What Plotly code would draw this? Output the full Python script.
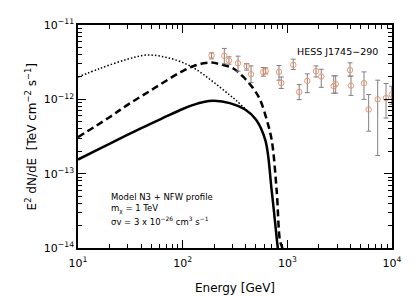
import plotly.graph_objects as go

# ---- data ----
solid_E = [10, 15.8, 25.1, 39.8, 63.1, 100, 126, 158, 200, 282, 398, 501, 617, 708, 794, 810, 830]
solid_F = [1.55e-13, 2.14e-13, 2.95e-13, 4.07e-13, 5.5e-13, 7.41e-13, 8.41e-13, 9.23e-13, 9.55e-13,
           8.9e-13, 7.24e-13, 5.37e-13, 2.8e-13, 6.0e-14, 1.3e-14, 1.0e-14, 5e-15]

dash_E = [10, 20, 30, 48.8, 75, 100, 126, 158, 190, 227, 305, 380, 473, 548, 638, 710, 791, 851, 895, 920]
dash_F = [3.1e-13, 5.75e-13, 8.5e-13, 1.3e-12, 1.9e-12, 2.4e-12, 2.79e-12, 3.05e-12, 3.13e-12, 2.97e-12,
          2.6e-12, 2.0e-12, 1.4e-12, 9.9e-13, 5.2e-13, 2.79e-13, 5.9e-14, 1.25e-14, 1.0e-14, 5e-15]

dot_E = [10, 16.2, 29.2, 45.3, 70.3, 109, 146, 182, 227, 283, 328, 410]
dot_F = [2.0e-12, 2.6e-12, 3.44e-12, 3.94e-12, 3.66e-12, 2.97e-12, 2.34e-12, 1.86e-12,
         1.46e-12, 1.135e-12, 9.55e-13, 7.1e-13]

hess_E = [189, 250, 277, 338, 409, 450, 589, 621, 832, 875, 1140, 1298, 1552, 1879, 2109,
          2773, 2898, 3970, 4055, 5400, 5985, 7300, 8770, 9930]
hess_F = [3.90e-12, 3.85e-12, 3.33e-12, 3.06e-12, 2.79e-12, 2.18e-12, 2.32e-12, 2.41e-12,
          2.34e-12, 1.66e-12, 2.91e-12, 1.26e-12, 1.77e-12, 2.39e-12, 2.03e-12, 1.51e-12,
          1.60e-12, 2.47e-12, 1.53e-12, 1.65e-12, 7.3e-13, 1.0e-12, 1.04e-12, 1.16e-12]
hess_hi = [4.22e-12, 4.84e-12, 3.73e-12, 3.81e-12, 3.03e-12, 2.82e-12, 2.68e-12, 2.65e-12,
           2.85e-12, 2.0e-12, 3.47e-12, 1.58e-12, 2.2e-12, 2.82e-12, 2.54e-12, 2.07e-12,
           2.07e-12, 3.10e-12, 2.05e-12, 2.34e-12, 1.16e-12, 1.81e-12, 1.63e-12, 1.5e-12]
hess_lo = [3.50e-12, 3.00e-12, 2.97e-12, 2.39e-12, 2.47e-12, 1.68e-12, 2.05e-12, 2.2e-12,
           1.81e-12, 1.40e-12, 2.52e-12, 9.9e-13, 1.23e-12, 2.0e-12, 1.45e-12, 1.21e-12,
           1.21e-12, 2.05e-12, 1.13e-12, 1.0e-12, 3.73e-13, 1.75e-13, 5.59e-13, 8.5e-13]

x_tickvals = [10, 100, 1000, 10000]
x_ticktext = ["10<sup>1</sup>", "10<sup>2</sup>", "10<sup>3</sup>", "10<sup>4</sup>"]
y_tickvals = [1e-14, 1e-13, 1e-12, 1e-11]
y_ticktext = ["10<sup>−14</sup>", "10<sup>−13</sup>", "10<sup>−12</sup>", "10<sup>−11</sup>"]

model_lines = ["Model N3 + NFW profile",
               "m<sub>χ</sub> = 1 TeV",
               "σv = 3 x 10<sup>−26</sup> cm<sup>3</sup> s<sup>−1</sup>"]

# ---- figure ----
err_plus = [h - f for h, f in zip(hess_hi, hess_F)]
err_minus = [f - l for f, l in zip(hess_F, hess_lo)]

fig = go.Figure()
fig.add_trace(go.Scatter(x=dot_E, y=dot_F, mode="lines", line=dict(color="black", width=1.5, dash="1.5px,2px", shape="spline")))
fig.add_trace(go.Scatter(x=dash_E, y=dash_F, mode="lines", line=dict(color="black", width=2.5, dash="7px,4px", shape="spline")))
fig.add_trace(go.Scatter(x=solid_E, y=solid_F, mode="lines", line=dict(color="black", width=2.5, shape="spline")))
fig.add_trace(go.Scatter(
    x=hess_E, y=hess_F, mode="markers",
    marker=dict(symbol="circle-open", size=5.5, color="#f0956a", line=dict(width=1)),
    error_y=dict(type="data", symmetric=False, array=err_plus, arrayminus=err_minus,
                 color="#808080", thickness=1, width=2.5),
    cliponaxis=True,
))

minor_x = [m * 10 ** k for k in range(1, 4) for m in range(2, 10)]
minor_y = [m * 10.0 ** k for k in range(-14, -11) for m in range(2, 10)]

axis_common = dict(showline=True, linecolor="black", linewidth=1.5, mirror="ticks",
                   ticks="inside", ticklen=8, tickwidth=1.2, tickcolor="black",
                   showgrid=False, zeroline=False, automargin=False,
                   tickfont=dict(family="DejaVu Sans", size=11, color="black"))

fig.update_xaxes(type="log", range=[1, 4], tickmode="array", tickvals=x_tickvals, ticktext=x_ticktext,
                 ticklabelstandoff=4,
                 minor=dict(tickmode="array", tickvals=minor_x, ticks="inside", ticklen=4, tickcolor="black", tickwidth=1),
                 title=dict(text="Energy [GeV]", font=dict(family="DejaVu Sans", size=12, color="black")),
                 **axis_common)
fig.update_yaxes(type="log", range=[-14, -11], tickmode="array", tickvals=y_tickvals, ticktext=y_ticktext,
                 minor=dict(tickmode="array", tickvals=minor_y, ticks="inside", ticklen=4, tickcolor="black", tickwidth=1),
                 **axis_common)

# y-axis title placed as rotated text
fig.add_annotation(x=-0.15, y=0.5, xref="paper", yref="paper", textangle=-90, showarrow=False,
                   text="E<sup>2</sup> dN/dE  [TeV cm<sup>−2</sup> s<sup>−1</sup>]",
                   font=dict(family="DejaVu Sans", size=12, color="black"), xanchor="center", yanchor="middle")

fig.add_annotation(x=0.825, y=0.879, xref="paper", yref="paper", text="HESS J1745−290", showarrow=False,
                   font=dict(family="DejaVu Sans", size=9.5, color="black"), xanchor="center", yanchor="middle")
for i, line in enumerate(model_lines):
    fig.add_annotation(x=0.1, y=0.229 - 0.0538 * i, xref="paper", yref="paper", align="left",
                       text=line, showarrow=False, font=dict(family="DejaVu Sans", size=8.5, color="black"),
                       xanchor="left", yanchor="middle")

# page body adds an 8px offset, so margins are shifted to compensate
fig.update_layout(width=415, height=297, margin=dict(l=70, r=31, t=17, b=57),
                  paper_bgcolor="white", plot_bgcolor="white", showlegend=False)

fig.write_html("out.html")
